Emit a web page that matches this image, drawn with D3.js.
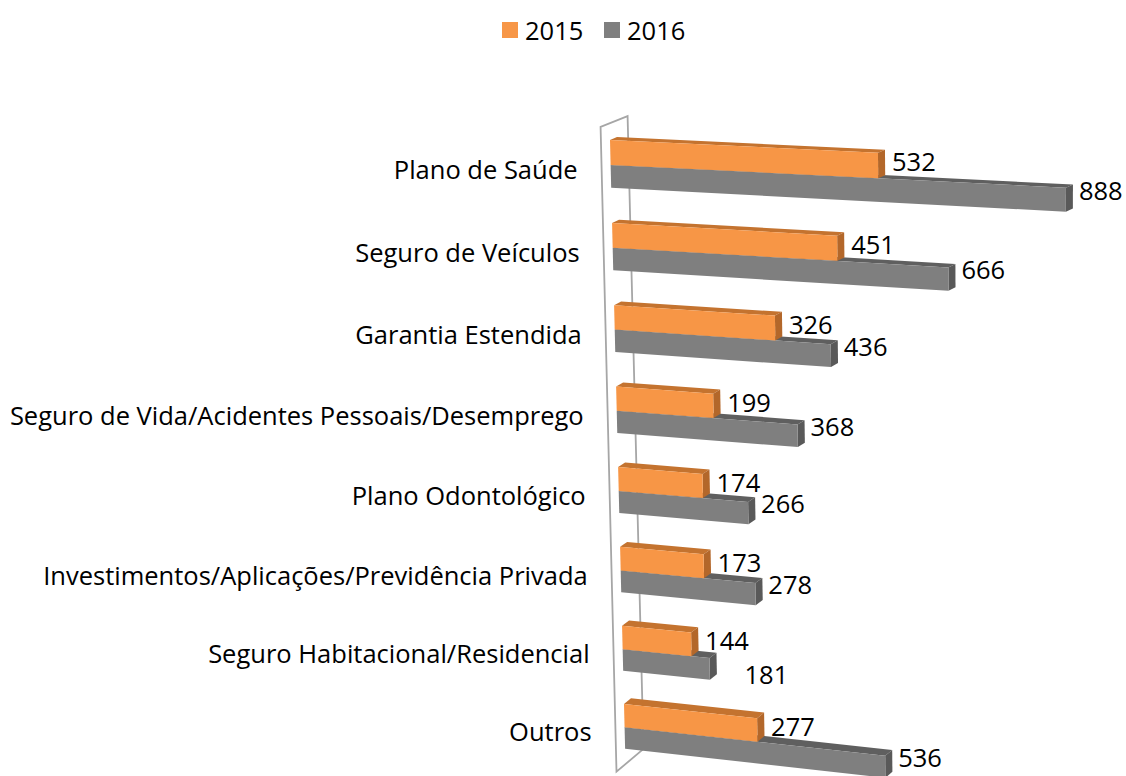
<!DOCTYPE html>
<html><head><meta charset="utf-8">
<script src="https://cdn.jsdelivr.net/npm/d3@7"></script>
<style>body{margin:0;background:#fff} svg{display:block} text{font-family:"Open Sans",sans-serif;fill:#000}</style>
</head><body><svg id="c" width="1126" height="776"></svg>
<script>
// ---- data ----
const categories = ["Plano de Saúde","Seguro de Veículos","Garantia Estendida","Seguro de Vida/Acidentes Pessoais/Desemprego","Plano Odontológico","Investimentos/Aplicações/Previdência Privada","Seguro Habitacional/Residencial","Outros"];
const values2015 = [532,451,326,199,174,173,144,277];
const values2016 = [888,666,436,368,266,278,181,536];
const seriesNames = ["2015","2016"];

// ---- style ----
const colors = {
  "2015": {front:"#f79646", top:"#c4732f", side:"#b3672a"},
  "2016": {front:"#7f7f7f", top:"#5f5f5f", side:"#595959"}
};
const fontSize = "25.5px";
const svg = d3.select("#c");

// world scales
const xScale = d3.scaleLinear().domain([0,1000]).range([0,1000]);
const yScale = d3.scaleBand().domain(categories).range([0,640]).paddingInner(0.425).paddingOuter(0.2);
const bw = yScale.bandwidth();
const hOrange = 24;

// perspective homography (world front plane -> screen)
function solveH(pairs){
  const A=[],B=[];
  pairs.forEach(([X,Y,x,y])=>{
    A.push([X,Y,1,0,0,0,-X*x,-Y*x]);B.push(x);
    A.push([0,0,0,X,Y,1,-X*y,-Y*y]);B.push(y);
  });
  const n=8;
  for(let i=0;i<n;i++){
    let p=i;for(let r=i+1;r<n;r++) if(Math.abs(A[r][i])>Math.abs(A[p][i])) p=r;
    [A[i],A[p]]=[A[p],A[i]];[B[i],B[p]]=[B[p],B[i]];
    for(let r=0;r<n;r++){ if(r===i) continue; const f=A[r][i]/A[i][i];
      for(let c=i;c<n;c++) A[r][c]-=f*A[i][c]; B[r]-=f*B[i]; }
  }
  return B.map((b,i)=>b/A[i][i]);
}
const y0 = yScale(categories[0]), y7 = yScale(categories[7]);
const H = solveH([
  [xScale(0),y0,610,140],
  [xScale(888),y0,1066,161.6],
  [xScale(0),y7,624,704],
  [xScale(536),y7,885,732]
]);
function P(X,Y){
  const w=H[6]*X+H[7]*Y+1;
  return [(H[0]*X+H[1]*Y+H[2])/w,(H[3]*X+H[4]*Y+H[5])/w];
}
function off(p,z){
  const k=0.4+0.45*(p[1]-120)/650;
  return [p[0]+z,p[1]-z*k];
}
const depth = 7;
const line = pts => "M"+pts.map(p=>p.join(",")).join("L")+"Z";

// wall
const wTop=P(0,0), wBot=P(0,640);
const wall = svg.append("g").attr("fill","none").attr("stroke","#a6a6a6").attr("stroke-width",1.8);
const f1=off(wTop,-9), f2=off(wBot,-9), b1=off(wTop,18), b2=off(wBot,18);
wall.append("path").attr("d","M"+f1+"L"+f2+"L"+b2+"L"+b1+"Z");

// bars
function bar(g, v, ya, yb, c){
  const x=xScale(v);
  const tl=P(0,ya), tr=P(x,ya), br=P(x,yb), bl=P(0,yb);
  g.append("path").attr("d",line([tl,tr,off(tr,depth),off(tl,depth)])).attr("fill",c.top);
  g.append("path").attr("d",line([tr,off(tr,depth),off(br,depth),br])).attr("fill",c.side);
  g.append("path").attr("d",line([tl,tr,br,bl])).attr("fill",c.front);
  return [tr,br];
}
const gBars = svg.append("g");
const gLab = svg.append("g").style("font-size",fontSize);
const labelShift2016 = {6:[22,15]};
categories.forEach((cat,i)=>{
  const ya=yScale(cat), ym=ya+hOrange, yb=ya+bw;
  const g=gBars.append("g");
  const [gt,gb]=bar(g, values2016[i], ym, yb, colors["2016"]);
  const [ot,ob]=bar(g, values2015[i], ya, ym, colors["2015"]);
  const s=labelShift2016[i]||[0,0];
  gLab.append("text").attr("x",ot[0]+depth+7).attr("y",(ot[1]+ob[1])/2-4)
    .attr("dominant-baseline","central").text(values2015[i]);
  gLab.append("text").attr("x",gt[0]+depth+6+s[0]).attr("y",(gt[1]+gb[1])/2-10+s[1])
    .attr("dominant-baseline","central").text(values2016[i]);
  const lp=P(0,ym);
  gLab.append("text").attr("x",lp[0]-33).attr("y",lp[1]+4).attr("text-anchor","end")
    .attr("dominant-baseline","central").text(cat);
});

// legend
const leg = svg.append("g").style("font-size",fontSize);
const legX = d3.scalePoint().domain(seriesNames).range([502,604]);
seriesNames.forEach(s=>{
  leg.append("rect").attr("x",legX(s)).attr("y",22).attr("width",16).attr("height",16).attr("fill",colors[s].front);
  leg.append("text").attr("x",legX(s)+23).attr("y",30).attr("dominant-baseline","central").text(s);
});
</script></body></html>
